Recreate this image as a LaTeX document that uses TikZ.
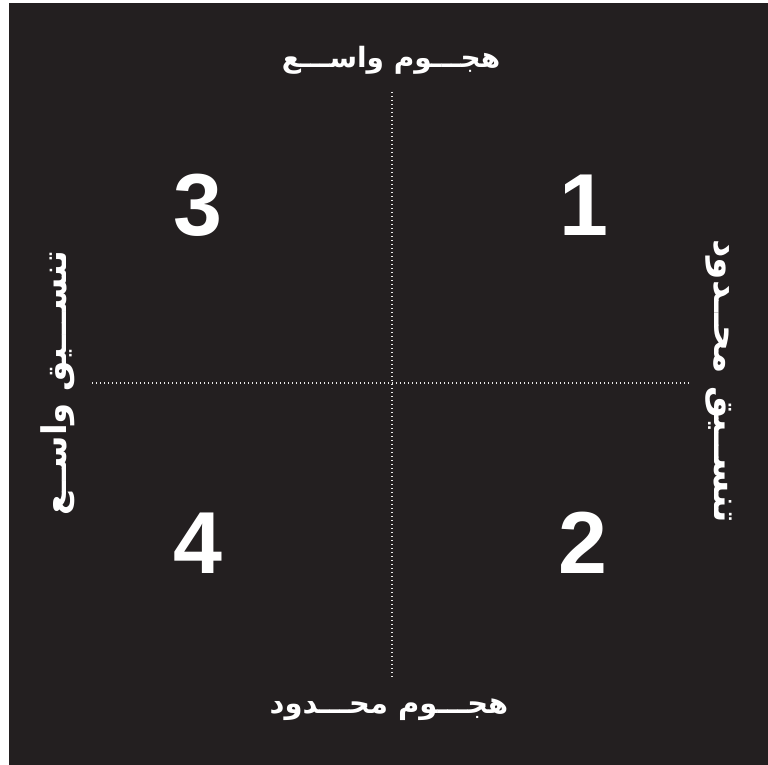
\documentclass[tikz,border=0pt]{standalone}
\usepackage{fontspec}
\usepackage{tikz}
\usetikzlibrary{positioning}
\TeXXeTstate=1
\newfontfamily\arabicfont[Script=Arabic]{DejaVu Sans}
\newfontfamily\numfont{Liberation Sans}
\definecolor{bgc}{RGB}{35,31,32}

\begin{document}
\begin{tikzpicture}[x=1pt,y=-1pt,
    axis/.style={white!85!gray,line width=1.2pt,dash pattern=on 1.2pt off 2.8pt},
    lbl/.style={text=white,inner sep=0pt,font=\arabicfont\bfseries\fontsize{28}{28}\selectfont},
    side/.style={lbl,font=\arabicfont\bfseries\fontsize{#1}{#1}\selectfont},
    num/.style={text=white,inner sep=0pt,font=\numfont\bfseries\fontsize{88}{88}\selectfont}]
  \useasboundingbox (0,0) rectangle (768,765);
  \fill[bgc] (9,3) rectangle (768,765);
  % axes
  \coordinate (top) at (392,92); \coordinate (bot) at (392,679);
  \coordinate (lft) at (92,383); \coordinate (rgt) at (690,383);
  \draw[axis] (top) -- (bot);
  \draw[axis] (lft) -- (rgt);
  % axis labels
  \node[lbl] (wide) at (391,60) {\beginR هجـــوم واســـع\endR};
  \node[lbl,font=\arabicfont\bfseries\fontsize{29}{29}\selectfont] (narrow) at (389,710) {\beginR هجـــوم محـــدود\endR};
  \node[side=34,rotate=90] (cwide) at (58,383) {\beginR تنســـيق واســع\endR};
  \node[side=36,rotate=-90] (cnarrow) at (719,381) {\beginR تنســيق محــدود\endR};
  % quadrants
  \node[num] (q1) at (584,205) {1};
  \node[num] (q2) at (583,543) {2};
  \node[num] (q3) at (198,205) {3};
  \node[num] (q4) at (198,543) {4};
\end{tikzpicture}
\end{document}
